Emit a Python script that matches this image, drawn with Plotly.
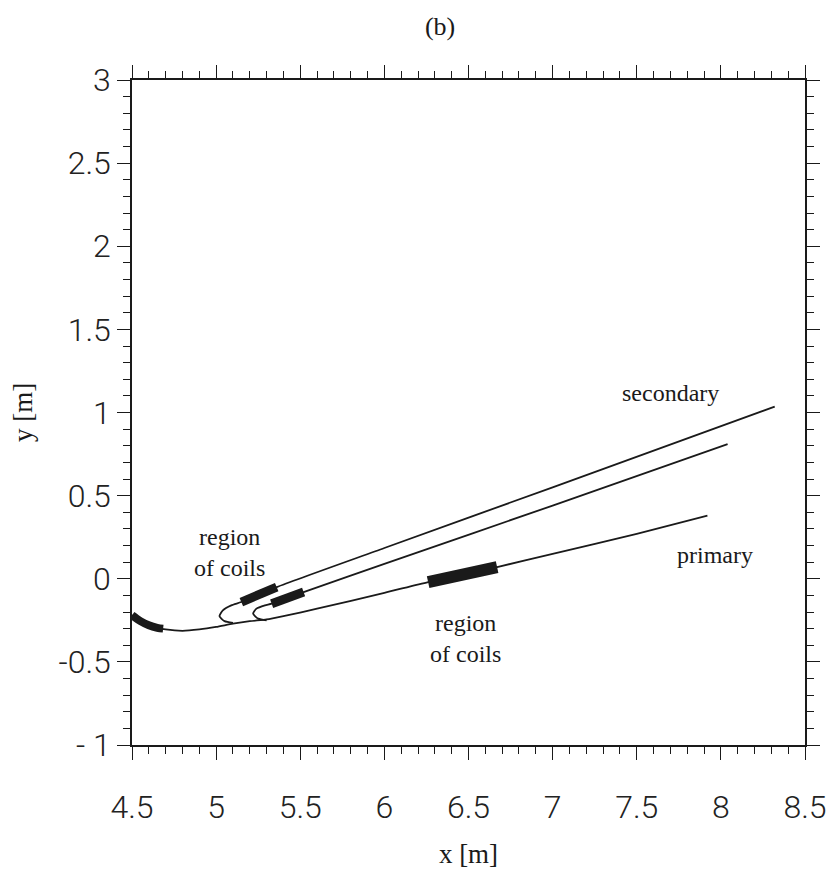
import plotly.graph_objects as go

# ---- data ----
primary_x = [4.50, 4.55, 4.60, 4.65, 4.70, 4.80, 4.90, 5.00, 5.10, 5.20, 5.30, 5.40, 5.60, 6.00, 6.26, 6.67, 7.00, 7.50, 7.92]
primary_y = [-0.22, -0.255, -0.28, -0.295, -0.305, -0.313, -0.305, -0.29, -0.27, -0.255, -0.245, -0.225, -0.18, -0.085, -0.02, 0.07, 0.15, 0.27, 0.38]

sec_outer_x = [5.10, 5.05, 5.02, 5.04, 5.09, 5.15, 5.36, 6.00, 7.00, 8.32]
sec_outer_y = [-0.265, -0.255, -0.225, -0.19, -0.16, -0.14, -0.05, 0.185, 0.55, 1.035]

sec_inner_x = [5.30, 5.25, 5.22, 5.24, 5.29, 5.33, 5.52, 6.00, 7.00, 8.04]
sec_inner_y = [-0.25, -0.24, -0.21, -0.18, -0.16, -0.15, -0.08, 0.09, 0.44, 0.81]

coil_a_x = [4.50, 4.55, 4.60, 4.65, 4.685]
coil_a_y = [-0.22, -0.255, -0.28, -0.295, -0.30]
coil_b_x = [5.15, 5.36]
coil_b_y = [-0.14, -0.05]
coil_c_x = [5.33, 5.52]
coil_c_y = [-0.15, -0.08]
coil_d_x = [6.26, 6.67]
coil_d_y = [-0.02, 0.07]

x_ticks = [4.5, 5, 5.5, 6, 6.5, 7, 7.5, 8, 8.5]
x_tick_text = ["4.5", "5", "5.5", "6", "6.5", "7", "7.5", "8", "8.5"]
y_ticks = [-1, -0.5, 0, 0.5, 1, 1.5, 2, 2.5, 3]
y_tick_text = ["- 1", "-0.5", "0", "0.5", "1", "1.5", "2", "2.5", "3"]

INK = "#1a1a1a"
fig = go.Figure()

for xs, ys in [(primary_x, primary_y), (sec_outer_x, sec_outer_y), (sec_inner_x, sec_inner_y)]:
    fig.add_trace(go.Scatter(x=xs, y=ys, mode="lines", line=dict(color=INK, width=1.8, shape="spline", smoothing=0.6),
                             showlegend=False, hoverinfo="skip"))

for xs, ys, w in [(coil_a_x, coil_a_y, 8), (coil_b_x, coil_b_y, 9), (coil_c_x, coil_c_y, 9), (coil_d_x, coil_d_y, 12)]:
    fig.add_trace(go.Scatter(x=xs, y=ys, mode="lines", line=dict(color=INK, width=w, shape="spline"),
                             showlegend=False, hoverinfo="skip"))

serif = "Liberation Serif, Times New Roman, serif"
lab = dict(family=serif, size=24, color=INK)
fig.add_annotation(x=5.08, y=0.16, xref="x", yref="y", text="region<br>of coils", showarrow=False, font=lab, align="center")
fig.add_annotation(x=6.48, y=-0.36, xref="x", yref="y", text="region<br>of coils", showarrow=False, font=lab, align="center")
fig.add_annotation(x=7.965, y=0.14, xref="x", yref="y", text="primary", showarrow=False, font=lab)
fig.add_annotation(x=7.70, y=1.12, xref="x", yref="y", text="secondary", showarrow=False, font=lab)

tickfont = dict(family="Liberation Sans Narrow, Roboto, DejaVu Sans Condensed, Arial Narrow, sans-serif",
                size=32, color="#222", weight=300)
axis_common = dict(showgrid=False, zeroline=False, showline=True, linecolor=INK, linewidth=1.6,
                   mirror="allticks", ticks="outside", tickcolor=INK, tickwidth=1.3, ticklen=13,
                   tickfont=tickfont, automargin=False)

fig.update_layout(
    width=839, height=878,
    margin=dict(l=124, r=42, t=72, b=141),
    paper_bgcolor="white", plot_bgcolor="white",
    title=dict(text="(b)", x=0.515, xanchor="center", y=0.99, yanchor="top",
               font=dict(family=serif, size=26, color=INK), automargin=False),
    xaxis=dict(range=[4.5, 8.5], tickvals=x_ticks, ticktext=x_tick_text,
               minor=dict(dtick=0.1, tick0=4.5, ticks="outside", ticklen=7, tickcolor=INK, tickwidth=1.2),
               ticklabelstandoff=20,
               title=dict(text="x [m]", font=dict(family=serif, size=27, color=INK), standoff=19),
               **axis_common),
    yaxis=dict(range=[-1, 3], tickvals=y_ticks, ticktext=y_tick_text,
               minor=dict(dtick=0.1, tick0=-1, ticks="outside", ticklen=7, tickcolor=INK, tickwidth=1.2),
               ticklabelstandoff=0,
               title=dict(text="y [m]", font=dict(family=serif, size=27, color=INK), standoff=28),
               **axis_common),
)

fig.write_html("out.html")
